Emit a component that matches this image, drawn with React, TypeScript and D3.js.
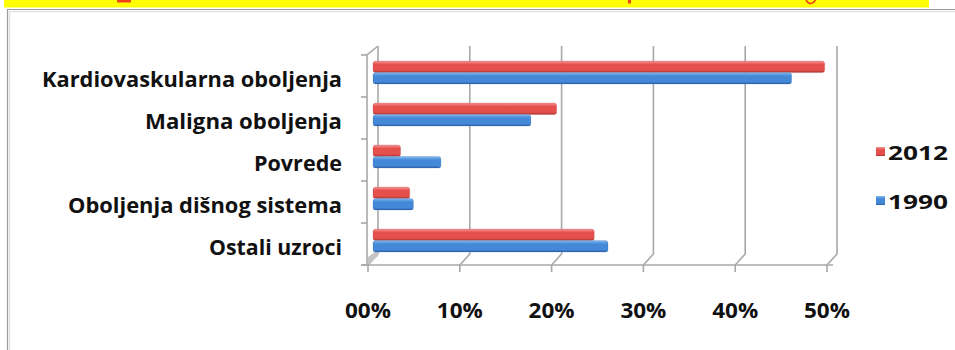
import React from 'react';
import * as d3 from 'd3';

// Causes of death, share of all deaths (%)
const categories = [
  'Kardiovaskularna oboljenja',
  'Maligna oboljenja',
  'Povrede',
  'Oboljenja dišnog sistema',
  'Ostali uzroci',
];
const seriesNames = ['2012', '1990'];
const values2012 = [49.2, 20.0, 3.0, 4.0, 24.1];
const values1990 = [45.6, 17.2, 7.4, 4.4, 25.6];
const tickValues = [0, 10, 20, 30, 40, 50];
const tickLabels = ['00%', '10%', '20%', '30%', '40%', '50%'];

const W = 955;
const H = 350;
const FONT = '"Open Sans", "DejaVu Sans", sans-serif';

// pseudo-3D depth offset between the front plane and the back wall
const DX = 10;
const DY = -9;

const palette = [
  { light: '#f59896', base: '#e5504c', dark: '#a9322f' },
  { light: '#86b9ee', base: '#4389d8', dark: '#2a5fa6' },
];

const labelWidths = [300, 197, 88, 274, 133];

export default function App() {
  const frontY = 265;
  const xFront = d3.scaleLinear().domain([0, 50]).range([368, 827]);
  const xBack = (v: number) => xFront(v) + DX;
  const xBar = (v: number) => xFront(v) + DX / 2;
  const yBand = d3.scaleBand<string>().domain(categories).range([55, frontY]).padding(0);
  const ySeries = d3.scaleBand<string>().domain(seriesNames).range([6, 29]).padding(0);
  const backTop = 46;
  const backBottom = frontY + DY;
  const axisX = xFront(0) - 1;

  const seriesValues = [values2012, values1990];

  return (
    <svg
      width={W}
      height={H}
      style={{ position: 'absolute', left: 0, top: 0, background: '#ffffff' }}
      fontFamily={FONT}
    >
      <defs>
        {palette.map((p, i) => (
          <linearGradient key={i} id={`barGrad${i}`} x1="0" y1="0" x2="0" y2="1">
            <stop offset="0%" stopColor={p.light} />
            <stop offset="30%" stopColor={p.base} />
            <stop offset="80%" stopColor={p.base} />
            <stop offset="100%" stopColor={p.dark} />
          </linearGradient>
        ))}
      </defs>

      {/* header strip */}
      <rect x={4} y={0} width={925} height={7.5} fill="#ffff00" />
      <g fill="#f2401a" stroke="none">
        <rect x={117} y={0} width={14} height={2.5} />
        <rect x={628} y={0} width={3} height={3.5} />
      </g>
      <path d="M806,0 Q810.5,7 815.5,0" fill="none" stroke="#f2401a" strokeWidth={1.6} />

      {/* chart frame */}
      <path d={`M7.5,${H} V9.5 H${W}`} fill="none" stroke="#9c9c9c" strokeWidth={1.2} />
      <path d={`M9.5,${H} V11.5 H${W}`} fill="none" stroke="#e2e2e2" strokeWidth={1.5} />

      {/* back wall gridlines bending to the floor's front edge */}
      {tickValues.map((t) => (
        <path
          key={`g${t}`}
          d={`M${xBack(t)},${backTop} V${backBottom - 2} L${xFront(t)},${frontY} V${frontY + 7}`}
          fill="none"
          stroke="#a8a8a8"
          strokeWidth={1.6}
        />
      ))}

      {/* floor corner */}
      <polygon
        points={`${axisX + 1},${frontY} ${xBack(0)},${backBottom} ${xBack(0)},${backBottom - 6} ${axisX + 1},${frontY - 8}`}
        fill="#c4c4c4"
      />

      {/* category axis */}
      <path
        d={`M${xBack(0)},${backTop} L${axisX},${backTop - DY} V${frontY}`}
        fill="none"
        stroke="#a8a8a8"
        strokeWidth={1.6}
      />
      {[...categories.map((c) => yBand(c) as number), frontY].map((y, i) => (
        <line key={`t${i}`} x1={axisX - 6} x2={axisX} y1={y} y2={y} stroke="#a8a8a8" strokeWidth={1.6} />
      ))}
      <line x1={axisX - 6} x2={xFront(50) + 6} y1={frontY} y2={frontY} stroke="#a8a8a8" strokeWidth={1.6} />

      {/* bars */}
      {categories.map((c, ci) =>
        seriesNames.map((s, si) => {
          const v = seriesValues[si][ci];
          const y = (yBand(c) as number) + (ySeries(s) as number);
          const h = ySeries.bandwidth();
          const x0 = xBar(0);
          const x1 = xBar(v);
          return (
            <rect
              key={`${c}-${s}`}
              x={x0}
              y={y}
              width={x1 - x0}
              height={h}
              rx={2.5}
              fill={`url(#barGrad${si})`}
              stroke={palette[si].dark}
              strokeOpacity={0.35}
              strokeWidth={0.6}
            />
          );
        })
      )}

      {/* category labels */}
      {categories.map((c, i) => (
        <text
          key={`l${c}`}
          x={342}
          y={(yBand(c) as number) + 32}
          textAnchor="end"
          fontSize={20.5}
          fontWeight={700}
          fill="#111111"
          textLength={labelWidths[i]}
          lengthAdjust="spacingAndGlyphs"
        >
          {c}
        </text>
      ))}

      {/* value axis labels */}
      {tickValues.map((t, i) => (
        <text
          key={`x${t}`}
          x={xFront(t)}
          y={318}
          textAnchor="middle"
          fontSize={21}
          fontWeight={700}
          fill="#111111"
          textLength={46}
          lengthAdjust="spacingAndGlyphs"
        >
          {tickLabels[i]}
        </text>
      ))}

      {/* legend */}
      {seriesNames.map((s, i) => {
        const y = 147 + i * 49;
        return (
          <g key={`lg${s}`}>
            <rect x={876} y={y} width={9} height={9} fill={`url(#barGrad${i})`} />
            <text
              x={888}
              y={y + 13}
              fontSize={20}
              fontWeight={700}
              fill="#111111"
              textLength={60}
              lengthAdjust="spacingAndGlyphs"
            >
              {s}
            </text>
          </g>
        );
      })}
    </svg>
  );
}
